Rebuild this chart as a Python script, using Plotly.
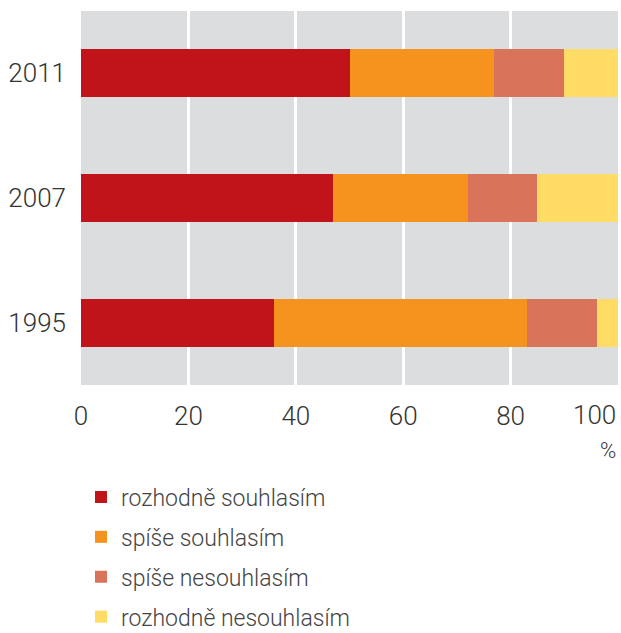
import plotly.graph_objects as go

years = ["2011", "2007", "1995"]
series_names = ["rozhodně souhlasím", "spíše souhlasím", "spíše nesouhlasím", "rozhodně nesouhlasím"]
rozhodne_souhlasim = [50, 47, 36]
spise_souhlasim = [27, 25, 47]
spise_nesouhlasim = [13, 13, 13]
rozhodne_nesouhlasim = [10, 15, 4]
x_ticks = [0, 20, 40, 60, 80, 100]

colors = ["#C0141A", "#F6931F", "#D9735A", "#FFDC66"]
values = [rozhodne_souhlasim, spise_souhlasim, spise_nesouhlasim, rozhodne_nesouhlasim]

FONT = "Roboto, sans-serif"
TICKFONT = dict(size=26, family=FONT, color="#333333", weight=300)

fig = go.Figure()
for i, (name, vals) in enumerate(zip(series_names, values)):
    fig.add_trace(go.Bar(
        y=years, x=vals, name=name, orientation="h",
        marker=dict(color=colors[i], line=dict(width=0)),
        legendgroup=f"g{i}",
        hoverinfo="x+name",
    ))

# last tick label is right-aligned to the plot edge (as in the reference)
tick_text = [str(v) for v in x_ticks[:-1]] + [""]

fig.update_layout(
    width=621, height=633,
    barmode="stack",
    bargap=0.615,
    plot_bgcolor="#DCDDDF",
    paper_bgcolor="white",
    margin=dict(l=81, r=3, t=11, b=248, autoexpand=False),
    font=dict(family=FONT, color="#333333", size=26),
    xaxis=dict(
        range=[0, 100], tickvals=x_ticks, ticktext=tick_text,
        showgrid=True, gridcolor="white", gridwidth=2.5,
        zeroline=False, showline=False, ticks="", ticklabelstandoff=13,
        tickfont=TICKFONT, automargin=False,
        fixedrange=True,
    ),
    yaxis=dict(
        autorange="reversed", showgrid=False, zeroline=False, showline=False,
        ticks="", ticklabelstandoff=14,
        tickfont=TICKFONT, automargin=False,
        fixedrange=True,
    ),
    legend=dict(
        orientation="v", x=0, xanchor="left", y=-0.242, yanchor="top",
        traceorder="grouped", tracegroupgap=7,
        font=dict(size=23, family=FONT, color="#444444", weight=300),
        bgcolor="rgba(0,0,0,0)",
    ),
    annotations=[
        dict(
            text=str(x_ticks[-1]), xref="paper", yref="paper", x=1, xanchor="right",
            y=-0.08, yanchor="middle", showarrow=False, font=TICKFONT,
        ),
        dict(
            text="%", xref="paper", yref="paper", x=1, xanchor="right",
            y=-0.174, yanchor="middle", showarrow=False,
            font=dict(size=22, family=FONT, color="#333333", weight=300),
        ),
    ],
)

fig.write_html(
    "out.html",
    config={"displayModeBar": False},
    post_script="document.body.style.margin='0';document.body.style.overflow='hidden';",
)
